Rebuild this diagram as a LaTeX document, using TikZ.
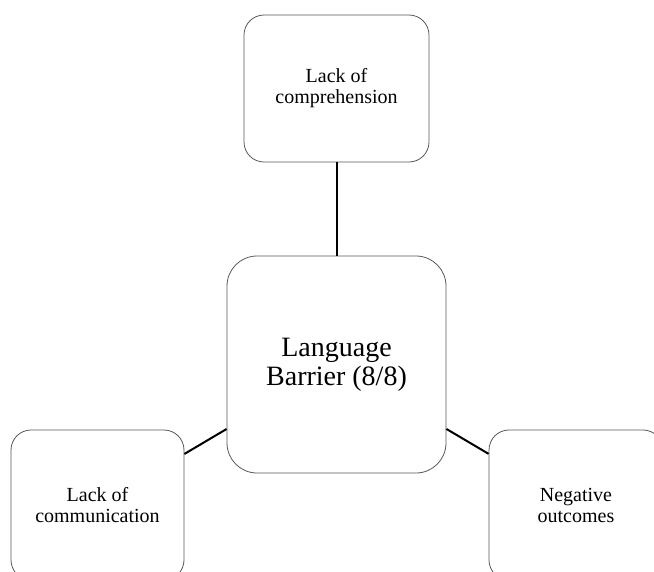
\documentclass[tikz,border=0pt]{standalone}
\usepackage{fontspec}
\setmainfont{Liberation Serif}
\begin{document}
\begin{tikzpicture}[x=1pt,y=-1pt,
  idea/.style={draw=black!65, line width=0.8pt, fill=white, rectangle,
    rounded corners=20pt, inner sep=0pt, align=center,
    font=\fontsize{20}{21}\selectfont},
  core/.style={idea, rounded corners=30pt, font=\fontsize{28}{29}\selectfont},
  link/.style={draw=black, line width=2pt}]
  \useasboundingbox (0,0) rectangle (654,571);
  \clip (0,0) rectangle (654,571);
  \node[core, minimum width=219pt, minimum height=217pt] (barrier) at (336.5,364.5) {Language\\Barrier (8/8)};
  \node[idea, minimum width=185pt, minimum height=147pt] (compr) at (336.5,88.5) {Lack of\\comprehension};
  \node[idea, minimum width=173pt, minimum height=150pt] (comm) at (97.5,505) {Lack of\\communication};
  \node[idea, minimum width=174pt, minimum height=150pt] (neg) at (576,505) {Negative\\outcomes};
  \draw[link] (barrier) -- (compr);
  \draw[link] (barrier) -- (comm);
  \draw[link] (barrier) -- (neg);
\end{tikzpicture}
\end{document}
